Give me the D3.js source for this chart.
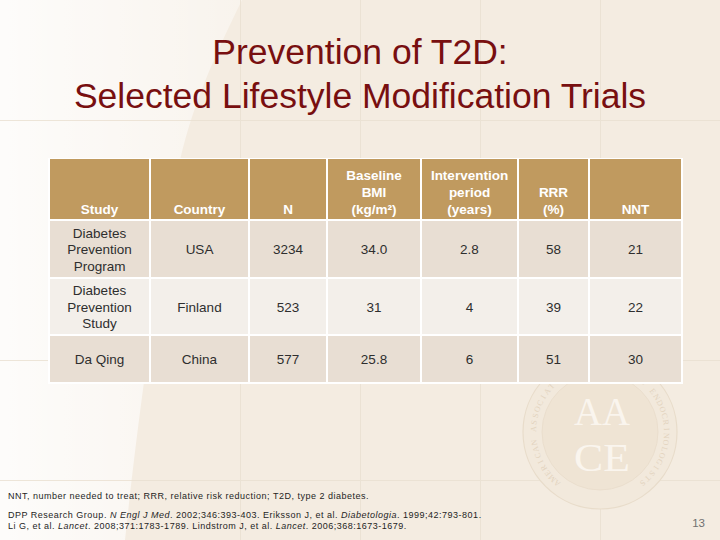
<!DOCTYPE html>
<html><head><meta charset="utf-8">
<script src="https://cdn.jsdelivr.net/npm/d3@7"></script>
<style>html,body{margin:0;padding:0;background:#F4EDE2;}svg{display:block;}</style>
</head><body>
<script>
// ---- data ----
const titleLines = ["Prevention of T2D:", "Selected Lifestyle Modification Trials"];
const headers = [["Study"], ["Country"], ["N"], ["Baseline", "BMI", "(kg/m²)"], ["Intervention", "period", "(years)"], ["RRR", "(%)"], ["NNT"]];
const studies = [["Diabetes", "Prevention", "Program"], ["Diabetes", "Prevention", "Study"], ["Da Qing"]];
const countries = ["USA", "Finland", "China"];
const nValues = ["3234", "523", "577"];
const bmiValues = ["34.0", "31", "25.8"];
const periodValues = ["2.8", "4", "6"];
const rrrValues = ["58", "39", "51"];
const nntValues = ["21", "22", "30"];
const footnote = "NNT, number needed to treat; RRR, relative risk reduction; T2D, type 2 diabetes.";
const pageNumber = "13";
const sealRing = "AMERICAN ASSOCIATION OF CLINICAL ENDOCRINOLOGISTS";
const sealLetters = ["AA", "CE"];

const W = 720, H = 540;
const svg = d3.select("body").append("svg").attr("width", W).attr("height", H);
const defs = svg.append("defs");

// background
svg.append("rect").attr("width", W).attr("height", H).attr("fill", "#F4ECE1");
const lg = defs.append("linearGradient").attr("id", "sw").attr("x1", 0).attr("x2", 1).attr("y1", 0).attr("y2", 0);
lg.append("stop").attr("offset", 0).attr("stop-color", "#FFFFFF").attr("stop-opacity", 0.85);
lg.append("stop").attr("offset", 1).attr("stop-color", "#FFFFFF").attr("stop-opacity", 0.4);
svg.append("path").attr("d", "M0,0 L242,0 C215,55 190,110 178,170 C160,260 140,400 125,540 L0,540 Z")
  .attr("fill", "url(#sw)");
// faint grid
const gridG = svg.append("g").attr("stroke", "#EAE0D1").attr("stroke-width", 1).attr("opacity", 0.8);
[240.5, 360.5, 480.5, 600.5].forEach(x => gridG.append("line").attr("x1", x).attr("x2", x).attr("y1", 0).attr("y2", H));
[120.5, 360.5, 480.5].forEach(y => gridG.append("line").attr("x1", 0).attr("x2", W).attr("y1", y).attr("y2", y));

// watermark seal
const cx = 600, cy0 = 432;
const seal = svg.append("g").attr("transform", `translate(${cx},${cy0})`);
seal.append("circle").attr("r", 77).attr("fill", "#F2E9DC").attr("stroke", "#E8DCCA").attr("stroke-width", 1.2);
seal.append("circle").attr("r", 58).attr("fill", "#EFE4D4").attr("stroke", "#E8DCCA").attr("stroke-width", 0.8);
const chars = sealRing.split("");
const a0 = -140, a1 = 140;
const ringG = svg.append("g").attr("font-family", "Liberation Serif, serif").attr("font-size", 8)
  .attr("fill", "#E2D3BE").attr("text-anchor", "middle");
chars.forEach((c, k) => {
  if (c === " ") return;
  const ang = a0 + (a1 - a0) * k / (chars.length - 1);
  ringG.append("text")
    .attr("transform", `translate(${cx},${cy0}) rotate(${ang}) translate(0,-64)`)
    .text(c);
});
seal.selectAll("text.big").data(sealLetters).join("text").attr("class", "big")
  .attr("text-anchor", "middle")
  .attr("font-family", "Liberation Serif, serif").attr("font-size", 41).attr("fill", "#FAF5EE")
  .attr("x", 2).attr("y", (d, i) => -7 + i * 46)
  .attr("textLength", 56).attr("lengthAdjust", "spacingAndGlyphs").text(d => d);

// title
svg.append("g").selectAll("text").data(titleLines).join("text")
  .attr("x", 360).attr("y", (d, i) => 64 + i * 44)
  .attr("text-anchor", "middle")
  .attr("font-family", "Liberation Sans, Arial, sans-serif")
  .attr("font-size", 35.5).attr("fill", "#780F10").text(d => d);

// table
const colEdges = [49, 150, 249, 327, 421, 518, 589, 682];
const colIdx = d3.range(headers.length);
const xL = d3.scaleOrdinal().domain(colIdx).range(colEdges.slice(0, -1));
const xR = d3.scaleOrdinal().domain(colIdx).range(colEdges.slice(1));
const rowEdges = [159, 220, 278, 335, 383];
const gap = 1;

const table = svg.append("g");
table.append("rect").attr("x", colEdges[0] - 1).attr("y", rowEdges[0] - 1)
  .attr("width", colEdges[7] - colEdges[0] + 2).attr("height", rowEdges[4] - rowEdges[0] + 2).attr("fill", "#FFFFFF");

const font = "Liberation Sans, Arial, sans-serif";
// header
const hG = table.append("g");
hG.selectAll("rect").data(colIdx).join("rect")
  .attr("x", i => xL(i) + gap).attr("y", rowEdges[0])
  .attr("width", i => xR(i) - xL(i) - 2 * gap).attr("height", rowEdges[1] - rowEdges[0] - gap)
  .attr("fill", "#C09A5F");
hG.selectAll("text").data(colIdx).join("text")
  .attr("text-anchor", "middle").attr("font-family", font).attr("font-weight", "bold")
  .attr("font-size", 13.5).attr("fill", "#FFFFFF")
  .attr("transform", i => `translate(${(xL(i) + xR(i)) / 2},0)`)
  .each(function (i) {
    const lines = headers[i];
    d3.select(this).selectAll("tspan").data(lines).join("tspan")
      .attr("x", 0).attr("y", (d, k) => 214 - (lines.length - 1 - k) * 17)
      .text(d => d);
  });

const rows = studies.map((s, r) => [s, [countries[r]], [nValues[r]], [bmiValues[r]], [periodValues[r]], [rrrValues[r]], [nntValues[r]]]);
const rowFill = ["#E8DED3", "#F3EFEA", "#E8DED3"];
rows.forEach((cells, r) => {
  const y0 = rowEdges[r + 1] + gap, y1 = rowEdges[r + 2] - gap;
  const cy = (y0 + y1) / 2;
  const g = table.append("g");
  g.selectAll("rect").data(colIdx).join("rect")
    .attr("x", i => xL(i) + gap).attr("y", y0)
    .attr("width", i => xR(i) - xL(i) - 2 * gap).attr("height", y1 - y0)
    .attr("fill", rowFill[r]);
  g.selectAll("text").data(colIdx).join("text")
    .attr("text-anchor", "middle").attr("font-family", font)
    .attr("font-size", 13.5).attr("fill", "#2E2E2E")
    .attr("transform", i => `translate(${(xL(i) + xR(i)) / 2},0)`)
    .each(function (i) {
      const lines = cells[i];
      const lh = 16.5;
      d3.select(this).selectAll("tspan").data(lines).join("tspan")
        .attr("x", 0).attr("y", (d, k) => cy + 5 + (k - (lines.length - 1) / 2) * lh)
        .text(d => d);
    });
});

// footnotes
const fn = svg.append("g").attr("font-family", font).attr("font-size", 9).attr("fill", "#1E1E1E")
  .attr("letter-spacing", 0.5);
fn.append("text").attr("x", 8).attr("y", 499).text(footnote);
const r1 = fn.append("text").attr("x", 8).attr("y", 518);
[["DPP Research Group. ", false], ["N Engl J Med", true], [". 2002;346:393-403. Eriksson J, et al. ", false], ["Diabetologia", true], [". 1999;42:793-801.", false]]
  .forEach(([t, it]) => r1.append("tspan").attr("font-style", it ? "italic" : "normal").text(t));
const r2 = fn.append("text").attr("x", 8).attr("y", 529);
[["Li G, et al. ", false], ["Lancet", true], [". 2008;371:1783-1789. Lindstrom J, et al. ", false], ["Lancet", true], [". 2006;368:1673-1679.", false]]
  .forEach(([t, it]) => r2.append("tspan").attr("font-style", it ? "italic" : "normal").text(t));

svg.append("text").attr("x", 705).attr("y", 527).attr("text-anchor", "end")
  .attr("font-family", font).attr("font-size", 11.5).attr("fill", "#707070").text(pageNumber);
</script>
</body></html>
